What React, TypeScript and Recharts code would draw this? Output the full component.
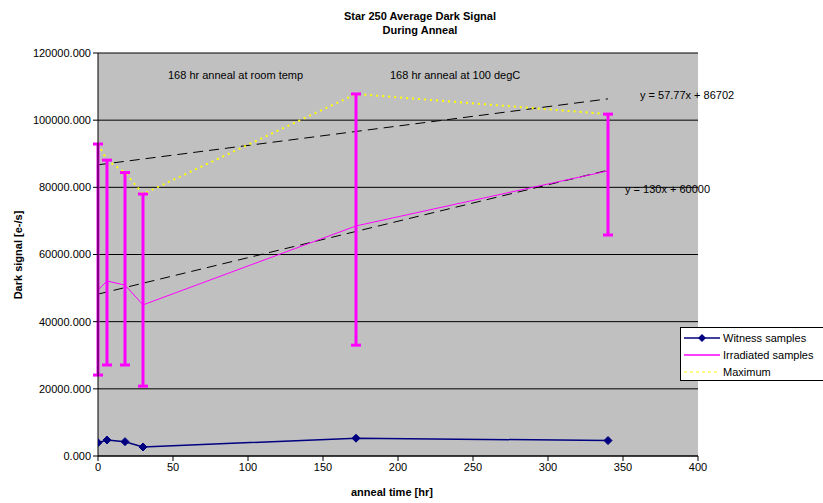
import {
  ComposedChart,
  Line,
  XAxis,
  YAxis,
  CartesianGrid,
  ErrorBar
} from 'recharts';

// anneal time [hr]
const hours = [0, 6, 18, 30, 172, 340];
const witness = [3970, 4760, 4270, 2680, 5300, 4600];
const irradiated = [49400, 52100, 50900, 45000, 68500, 84900];
const irradiatedLow = [24100, 27100, 27100, 20800, 33000, 65800];
const irradiatedHigh = [92900, 88100, 84400, 78000, 107800, 101800];
const maximum = [92900, 88100, 84400, 78000, 107800, 101800];

// trendline end points
const trendHours = [0, 340];
const upperTrend = [86702, 106344];
const lowerTrend = [48200, 85100];

const xTicks = [0, 50, 100, 150, 200, 250, 300, 350, 400];
const yTicks = [0, 20000, 40000, 60000, 80000, 100000, 120000];

const seriesNames = ['Witness samples', 'Irradiated samples', 'Maximum'];

const data = hours.map((h, i) => ({
  h,
  witness: witness[i],
  irradiated: irradiated[i],
  err: [irradiated[i] - irradiatedLow[i], irradiatedHigh[i] - irradiated[i]],
  maximum: maximum[i]
}));
const upperData = trendHours.map((h, i) => ({ h, v: upperTrend[i] }));
const lowerData = trendHours.map((h, i) => ({ h, v: lowerTrend[i] }));

const font = '"Liberation Sans", Arial, sans-serif';

const Diamond = (props: any) => {
  const { cx, cy } = props;
  if (cx == null || cy == null) return null;
  return <polygon points={`${cx},${cy - 4} ${cx + 4},${cy} ${cx},${cy + 4} ${cx - 4},${cy}`} fill="#000080" stroke="#000080" />;
};

const legendItems = [
  { name: seriesNames[0], color: '#000080', dash: undefined, width: 1.5, diamond: true },
  { name: seriesNames[1], color: '#FF00FF', dash: undefined, width: 1.5, diamond: false },
  { name: seriesNames[2], color: '#FFFF00', dash: '3 3', width: 1, diamond: false }
];

const text = (left: number, top: number, s: string, extra: any = {}) => (
  <div style={{ position: 'absolute', left, top, fontFamily: font, fontSize: 11, color: '#000', whiteSpace: 'nowrap', ...extra }}>{s}</div>
);

export default function App() {
  return (
    <div style={{ position: 'absolute', left: 0, top: 0, width: 823, height: 503, background: '#fff', overflow: 'hidden' }}>
      <ComposedChart
        width={823}
        height={503}
        data={data}
        margin={{ top: 53, right: 125, bottom: 0, left: 0 }}
        style={{ fontFamily: font }}
      >
        <CartesianGrid vertical={false} stroke="#000" fill="#C0C0C0" fillOpacity={1} />
        <XAxis
          dataKey="h"
          type="number"
          domain={[0, 400]}
          ticks={xTicks}
          height={47}
          stroke="#000"
          tickSize={5}
          tick={{ fill: '#000', fontSize: 11 }}
          allowDataOverflow
        />
        <YAxis
          type="number"
          domain={[0, 120000]}
          ticks={yTicks}
          width={98}
          stroke="#000"
          tickSize={5}
          tickFormatter={(v: number) => v.toFixed(3)}
          tick={{ fill: '#000', fontSize: 11 }}
        />
        <Line data={upperData} dataKey="v" stroke="#000" strokeWidth={1} strokeDasharray="10 6" dot={false} legendType="none" isAnimationActive={false} />
        <Line data={lowerData} dataKey="v" stroke="#000" strokeWidth={1} strokeDasharray="10 6" dot={false} legendType="none" isAnimationActive={false} />
        <Line dataKey="maximum" name={seriesNames[2]} stroke="#FFFF00" strokeWidth={2} strokeDasharray="2 4" dot={false} isAnimationActive={false} />
        <Line dataKey="irradiated" name={seriesNames[1]} stroke="#FF00FF" strokeWidth={1} dot={false} isAnimationActive={false}>
          <ErrorBar dataKey="err" direction="y" stroke="#FF00FF" strokeWidth={3} width={5} />
        </Line>
        <Line dataKey="witness" name={seriesNames[0]} stroke="#000080" strokeWidth={1.5} dot={<Diamond />} isAnimationActive={false} />
      </ComposedChart>
      <div style={{ position: 'absolute', left: 680, top: 327, background: '#fff', border: '1px solid #000', width: 150, height: 54, boxSizing: 'border-box', padding: '1px 0 0 3px', fontFamily: font, fontSize: 11 }}>
        {legendItems.map(item => (
          <div key={item.name} style={{ display: 'flex', alignItems: 'center', height: 17 }}>
            <svg width={36} height={10} style={{ marginRight: 3 }}>
              <line x1={0} y1={5} x2={36} y2={5} stroke={item.color} strokeWidth={item.width} strokeDasharray={item.dash} />
              {item.diamond && <polygon points="18,1 22,5 18,9 14,5" fill="#000080" />}
            </svg>
            <span>{item.name}</span>
          </div>
        ))}
      </div>
      <div style={{ position: 'absolute', left: 0, top: 9, width: 840, textAlign: 'center', fontFamily: font, fontSize: 11, fontWeight: 'bold', lineHeight: '14px' }}>
        Star 250 Average Dark Signal<br />During Anneal
      </div>
      {text(168, 69, '168 hr anneal at room temp')}
      {text(390, 69, '168 hr anneal at 100 degC')}
      {text(640, 89, 'y = 57.77x + 86702')}
      {text(625, 183, 'y = 130x + 60000')}
      {text(351, 486, 'anneal time [hr]', { fontWeight: 'bold' })}
      <div style={{ position: 'absolute', left: 18, top: 255, fontFamily: font, fontSize: 11, fontWeight: 'bold', whiteSpace: 'nowrap', transform: 'translate(-50%, -50%) rotate(-90deg)' }}>
        Dark signal [e-/s]
      </div>
    </div>
  );
}
